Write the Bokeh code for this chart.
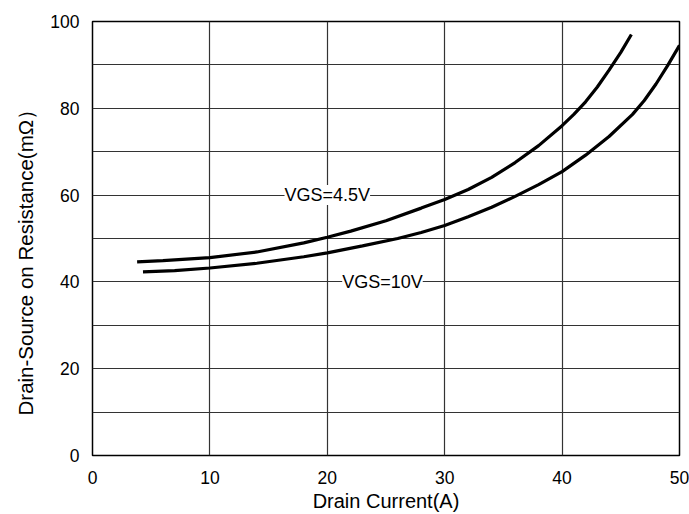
from bokeh.plotting import figure
from bokeh.models import Range1d, FixedTicker, Label, Title
from bokeh.embed import file_html
from bokeh.resources import INLINE

# Data
id_45 = [3.8, 6, 10, 14, 18, 20, 22, 25, 28, 30, 32, 34, 36, 38, 40, 41, 42, 43, 44, 45, 45.9]
rds_45 = [44.6, 44.9, 45.6, 46.9, 49.0, 50.3, 51.7, 54.1, 57.0, 59.0, 61.3, 64.1, 67.5, 71.4,
          76.0, 78.6, 81.5, 84.9, 88.8, 92.9, 97.0]

id_10 = [4.3, 7, 10, 14, 18, 20, 23, 26, 28, 30, 32, 34, 36, 38, 40, 42, 44, 46, 47, 48, 49, 50]
rds_10 = [42.3, 42.6, 43.2, 44.3, 45.8, 46.7, 48.3, 50.0, 51.4, 53.0, 55.0, 57.2, 59.7, 62.4,
          65.4, 69.2, 73.5, 78.6, 81.8, 85.6, 89.9, 94.5]

x_ticks = [0, 10, 20, 30, 40, 50]
y_ticks = [0, 20, 40, 60, 80, 100]
x_grid = [10, 20, 30, 40]
y_grid = [10, 20, 30, 40, 50, 60, 70, 80, 90]

x_label = "Drain Current(A)"
y_label = "Drain-Source on Resistance(mΩ）"

FONT = "Liberation Sans"

p = figure(width=689, height=514, output_backend="svg", toolbar_location=None,
           x_range=Range1d(0, 50), y_range=Range1d(0, 100),
           min_border_left=91, min_border_right=10, min_border_top=21, min_border_bottom=56)

p.outline_line_color = "black"
p.outline_line_width = 1.5
p.background_fill_color = "white"
p.border_fill_color = "white"

p.xaxis.ticker = FixedTicker(ticks=x_ticks)
p.yaxis.ticker = FixedTicker(ticks=y_ticks)
p.xgrid.ticker = FixedTicker(ticks=x_grid)
p.ygrid.ticker = FixedTicker(ticks=y_grid)
for g in (p.xgrid, p.ygrid):
    g.grid_line_color = "#333333"
    g.grid_line_width = 1.2
    g.grid_line_alpha = 1.0

for ax in (p.xaxis, p.yaxis):
    ax.axis_line_color = None
    ax.major_tick_line_color = None
    ax.minor_tick_line_color = None
    ax.major_label_text_font = FONT
    ax.major_label_text_font_size = "17.5px"
    ax.major_label_text_color = "black"
    ax.axis_label_text_font = FONT
    ax.axis_label_text_font_size = "20px"
    ax.axis_label_text_font_style = "normal"
    ax.axis_label_text_color = "black"

p.xaxis.axis_label = x_label
p.xaxis.major_label_standoff = 9
p.yaxis.major_label_standoff = 7
p.xaxis.axis_label_standoff = 3

# y-axis title as a left-side Title, anchored from the bottom like in the reference
p.add_layout(Title(text=y_label, align="left", offset=40, standoff=22,
                   text_font=FONT, text_font_size="20.5px", text_font_style="normal",
                   text_color="black"), "left")

p.line(id_45, rds_45, line_color="black", line_width=3.2)
p.line(id_10, rds_10, line_color="black", line_width=3.2)

for txt, xv, yv in (("VGS=4.5V", 20.0, 60.0), ("VGS=10V", 24.7, 40.0)):
    p.add_layout(Label(x=xv, y=yv, text=txt, text_font=FONT, text_font_size="18px",
                       text_color="black", text_align="center", text_baseline="middle",
                       background_fill_color="white", background_fill_alpha=1.0))

open("out.html", "w").write(file_html(p, INLINE))
